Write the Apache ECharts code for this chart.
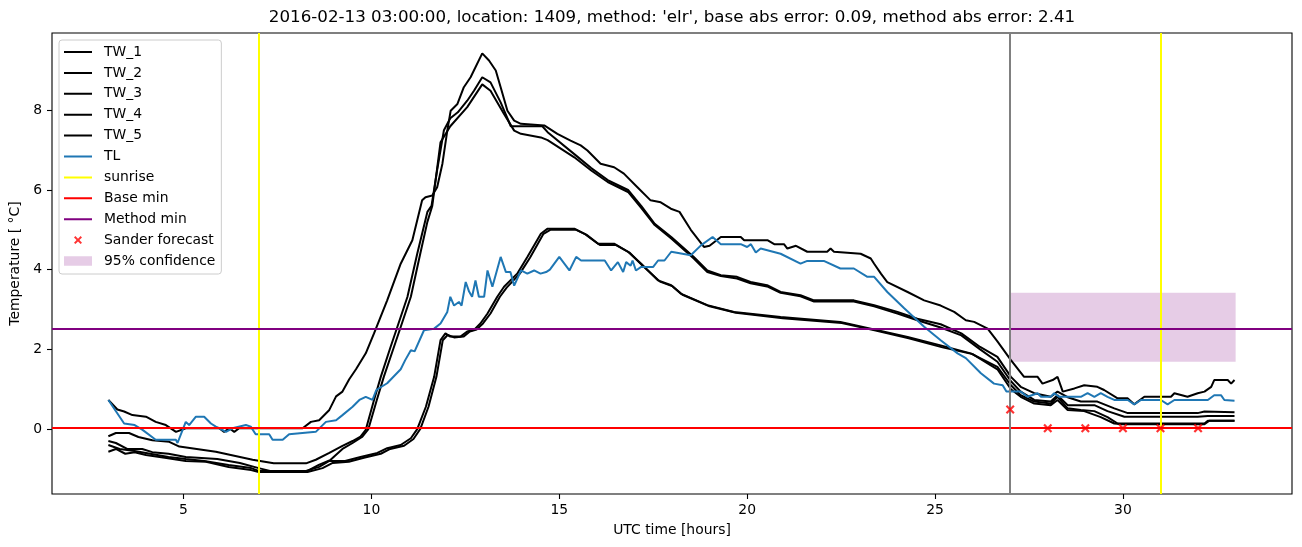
<!DOCTYPE html>
<html><head><meta charset="utf-8">
<script src="https://cdn.jsdelivr.net/npm/echarts@6/dist/echarts.min.js"></script>
<style>html,body{margin:0;padding:0;background:#fff}#c{width:1302px;height:547px}</style>
</head><body><div id="c"></div>
<script>
// ---- data (hours, °C) ----
const tw1 = [[3.0,0.73],[3.24,0.49],[3.42,0.44],[3.64,0.35],[4.0,0.31],[4.26,0.18],[4.53,0.10],[4.8,-0.07],[5.06,0.02],[5.95,0.02],[6.08,-0.07],[6.22,0.02],[6.35,-0.07],[6.48,0.02],[8.17,0.02],[8.39,0.18],[8.61,0.22],[8.88,0.48],[9.06,0.82],[9.23,0.94],[9.41,1.25],[9.59,1.5],[9.85,1.9],[10.07,2.4],[10.42,3.23],[10.78,4.15],[11.09,4.74],[11.35,5.74],[11.44,5.82],[11.62,5.86],[11.75,6.07],[11.89,6.66],[12.02,7.49],[12.11,7.99],[12.29,8.16],[12.46,8.58],[12.64,8.83],[12.95,9.43],[13.13,9.25],[13.31,9.0],[13.44,8.58],[13.62,7.99],[13.8,7.74],[13.98,7.66],[14.6,7.62],[14.95,7.41],[15.3,7.24],[15.57,7.12],[15.75,6.99],[16.1,6.66],[16.46,6.57],[16.72,6.41],[17.08,6.07],[17.43,5.74],[17.7,5.69],[17.97,5.53],[18.2,5.45],[18.5,5.0],[18.85,4.57],[19.0,4.6],[19.3,4.82],[19.83,4.82],[19.92,4.74],[20.54,4.74],[20.72,4.64],[20.98,4.64],[21.07,4.53],[21.3,4.6],[21.6,4.45],[22.13,4.45],[22.22,4.53],[22.31,4.45],[23.02,4.4],[23.29,4.28],[23.38,4.15],[23.56,3.9],[23.73,3.69],[24.27,3.44],[24.71,3.23],[25.15,3.1],[25.51,2.94],[25.82,2.73],[26.04,2.69],[26.4,2.52],[26.66,2.2],[27.02,1.73],[27.37,1.31],[27.73,1.31],[27.86,1.14],[28.13,1.23],[28.26,1.31],[28.4,0.94],[28.71,1.02],[28.97,1.1],[29.32,1.06],[29.5,0.98],[29.86,0.77],[30.13,0.77],[30.3,0.62],[30.57,0.81],[31.28,0.81],[31.37,0.9],[31.72,0.81],[31.99,0.9],[32.17,0.94],[32.35,1.06],[32.43,1.23],[32.79,1.23],[32.88,1.14],[32.97,1.23]];
const tw2 = [[3.0,-0.18],[3.2,-0.1],[3.55,-0.1],[3.8,-0.2],[4.17,-0.28],[4.62,-0.32],[4.89,-0.44],[5.86,-0.57],[6.84,-0.77],[7.4,-0.86],[8.26,-0.86],[8.52,-0.77],[8.88,-0.6],[9.23,-0.42],[9.5,-0.3],[9.71,-0.19],[9.85,-0.02],[10.07,0.73],[10.25,1.31],[10.51,2.06],[10.69,2.56],[10.96,3.32],[11.22,4.4],[11.49,5.45],[11.6,5.6],[11.75,6.5],[11.93,7.5],[12.1,7.8],[12.3,7.95],[12.55,8.24],[12.73,8.49],[12.95,8.83],[13.17,8.7],[13.44,8.2],[13.71,7.6],[13.98,7.6],[14.55,7.6],[14.69,7.45],[15.4,6.9],[15.85,6.55],[16.29,6.25],[16.83,6.0],[17.18,5.6],[17.54,5.15],[17.98,4.82],[18.58,4.32],[18.94,3.98],[19.3,3.86],[19.73,3.82],[20.09,3.69],[20.53,3.61],[20.89,3.44],[21.42,3.36],[21.78,3.23],[22.84,3.23],[23.38,3.11],[24.0,2.94],[24.53,2.77],[25.15,2.63],[25.7,2.4],[26.2,2.06],[26.66,1.81],[27.02,1.31],[27.28,1.06],[27.64,0.9],[28.08,0.81],[28.26,0.94],[28.53,0.8],[28.88,0.69],[29.32,0.69],[29.77,0.52],[30.13,0.40],[31.99,0.40],[32.17,0.44],[32.97,0.42]];
const tw3 = [[3.0,-0.3],[3.2,-0.35],[3.5,-0.5],[3.9,-0.5],[4.17,-0.58],[4.6,-0.62],[5.06,-0.7],[5.9,-0.75],[6.5,-0.85],[7.0,-0.98],[7.3,-1.05],[8.3,-1.05],[8.6,-0.9],[8.9,-0.78],[9.23,-0.5],[9.5,-0.35],[9.75,-0.2],[9.92,0.0],[10.15,0.75],[10.33,1.31],[10.6,2.06],[10.78,2.56],[11.05,3.32],[11.3,4.4],[11.49,5.2],[11.62,5.6],[11.84,7.2],[12.1,7.6],[12.55,8.08],[12.95,8.65],[13.17,8.49],[13.53,7.91],[13.8,7.49],[13.98,7.41],[14.51,7.32],[14.69,7.25],[15.4,6.82],[15.85,6.49],[16.29,6.2],[16.83,5.95],[17.18,5.55],[17.54,5.12],[17.98,4.78],[18.58,4.28],[18.94,3.94],[19.3,3.84],[19.73,3.78],[20.09,3.66],[20.53,3.58],[20.89,3.42],[21.42,3.33],[21.78,3.2],[22.84,3.2],[23.38,3.08],[24.0,2.9],[24.53,2.73],[25.15,2.55],[25.7,2.35],[26.2,2.0],[26.66,1.69],[27.02,1.2],[27.28,0.94],[27.64,0.73],[28.08,0.69],[28.26,0.85],[28.53,0.6],[28.88,0.6],[29.24,0.6],[29.59,0.45],[30.04,0.31],[31.99,0.31],[32.26,0.33],[32.97,0.33]];
const tw4 = [[3.0,-0.4],[3.3,-0.5],[3.7,-0.55],[4.0,-0.6],[4.6,-0.7],[5.06,-0.75],[5.55,-0.8],[6.2,-0.9],[6.8,-0.98],[7.0,-1.05],[8.26,-1.05],[8.61,-0.95],[8.88,-0.8],[9.3,-0.8],[9.71,-0.7],[10.16,-0.6],[10.42,-0.48],[10.78,-0.4],[11.05,-0.23],[11.22,0.0],[11.45,0.56],[11.67,1.31],[11.84,2.23],[11.97,2.4],[12.1,2.32],[12.37,2.32],[12.55,2.45],[12.73,2.49],[12.9,2.65],[13.09,2.9],[13.35,3.32],[13.53,3.57],[13.88,3.9],[14.15,4.32],[14.51,4.9],[14.69,5.03],[15.4,5.03],[15.67,4.9],[16.03,4.65],[16.47,4.65],[16.83,4.45],[17.18,4.15],[17.63,3.73],[17.98,3.61],[18.23,3.4],[18.94,3.11],[19.65,2.94],[20.89,2.81],[22.48,2.69],[23.38,2.5],[24.27,2.31],[25.15,2.1],[25.95,1.9],[26.66,1.56],[27.02,1.1],[27.28,0.85],[27.64,0.69],[28.08,0.64],[28.26,0.81],[28.53,0.52],[28.88,0.48],[29.24,0.45],[29.59,0.3],[29.86,0.14],[32.17,0.14],[32.26,0.21],[32.97,0.21]];
const tw5 = [[3.0,-0.57],[3.2,-0.5],[3.45,-0.62],[3.7,-0.58],[4.0,-0.65],[4.5,-0.72],[5.06,-0.8],[5.6,-0.82],[6.2,-0.95],[6.8,-1.03],[7.0,-1.08],[8.3,-1.08],[8.7,-0.98],[8.97,-0.85],[9.4,-0.82],[9.8,-0.72],[10.25,-0.62],[10.5,-0.5],[10.87,-0.42],[11.12,-0.25],[11.3,0.0],[11.52,0.56],[11.73,1.31],[11.9,2.23],[12.03,2.36],[12.2,2.3],[12.45,2.32],[12.62,2.45],[12.8,2.5],[12.97,2.65],[13.17,2.9],[13.42,3.32],[13.6,3.55],[13.95,3.9],[14.22,4.3],[14.58,4.9],[14.76,5.0],[15.45,5.0],[15.72,4.88],[16.08,4.62],[16.5,4.62],[16.88,4.42],[17.22,4.1],[17.68,3.7],[18.02,3.58],[18.28,3.37],[19.0,3.08],[19.7,2.92],[20.95,2.78],[22.52,2.66],[23.42,2.47],[24.3,2.28],[25.2,2.05],[26.0,1.88],[26.66,1.5],[27.02,1.0],[27.28,0.81],[27.64,0.64],[28.08,0.6],[28.26,0.73],[28.53,0.48],[28.97,0.45],[29.41,0.3],[29.77,0.14],[30.0,0.12],[32.17,0.12],[32.3,0.21],[32.97,0.21]];
const tl = [[3.0,0.73],[3.42,0.14],[3.7,0.10],[3.91,-0.02],[4.26,-0.27],[4.8,-0.27],[4.84,-0.35],[5.06,0.18],[5.15,0.10],[5.33,0.31],[5.55,0.31],[5.73,0.14],[5.86,0.06],[5.95,0.02],[6.13,-0.07],[6.3,0.02],[6.66,0.10],[6.79,0.06],[6.92,-0.13],[7.28,-0.13],[7.37,-0.27],[7.64,-0.27],[7.81,-0.13],[8.52,-0.07],[8.79,0.18],[9.06,0.22],[9.23,0.35],[9.5,0.56],[9.68,0.73],[9.85,0.81],[10.03,0.73],[10.13,0.98],[10.42,1.15],[10.78,1.5],[10.9,1.73],[11.05,1.98],[11.15,1.95],[11.4,2.48],[11.67,2.52],[11.84,2.65],[12.02,2.94],[12.1,3.32],[12.2,3.1],[12.33,3.19],[12.4,3.1],[12.51,3.69],[12.6,3.45],[12.68,3.32],[12.77,3.73],[12.86,3.32],[13.0,3.32],[13.09,3.98],[13.22,3.57],[13.44,4.32],[13.58,3.94],[13.7,3.94],[13.8,3.6],[13.98,3.98],[14.15,3.9],[14.33,3.98],[14.5,3.9],[14.65,3.94],[14.75,4.0],[15.0,4.32],[15.27,3.98],[15.45,4.32],[15.58,4.23],[16.21,4.23],[16.38,3.98],[16.56,4.19],[16.7,3.94],[16.78,4.19],[16.9,4.1],[16.95,4.23],[17.04,3.98],[17.18,4.07],[17.5,4.07],[17.63,4.23],[17.8,4.23],[17.98,4.45],[18.5,4.36],[18.77,4.61],[19.08,4.82],[19.3,4.64],[19.83,4.64],[20.0,4.57],[20.1,4.64],[20.23,4.43],[20.36,4.53],[20.89,4.4],[21.42,4.15],[21.6,4.22],[22.04,4.22],[22.48,4.03],[22.84,4.03],[23.2,3.82],[23.38,3.82],[23.73,3.44],[24.18,3.03],[24.71,2.57],[25.15,2.23],[25.6,1.9],[25.82,1.78],[26.22,1.4],[26.57,1.14],[26.8,1.1],[26.9,0.94],[27.28,0.94],[27.46,0.81],[27.73,0.9],[27.82,0.81],[28.08,0.81],[28.17,0.9],[28.3,0.81],[28.88,0.81],[29.06,0.9],[29.24,0.81],[29.41,0.9],[29.59,0.81],[29.77,0.73],[30.13,0.73],[30.3,0.62],[30.48,0.73],[31.01,0.73],[31.19,0.62],[31.37,0.73],[32.26,0.73],[32.43,0.85],[32.61,0.85],[32.7,0.73],[32.97,0.71]];
const sunriseTimes = [7, 31];
const baseMin = 0.03;
const methodMin = 2.52;
const forecastTime = 27;
const sanderForecast = [[27,0.49],[28,0.02],[29,0.02],[30,0.02],[31,0.02],[32,0.02]];
const confidenceRange = [1.69, 3.42];
const confidenceHours = [27, 33];
const xTicks = [5, 10, 15, 20, 25, 30];
const yTicks = [0, 2, 4, 6, 8];
const titleText = "2016-02-13 03:00:00, location: 1409, method: 'elr', base abs error: 0.09, method abs error: 2.41";

// ---- chart ----
const FONT = 'DejaVu Sans';
const LW = 2;
const xPath = 'path://M0,1.4L1.4,0L4,2.6L6.6,0L8,1.4L5.4,4L8,6.6L6.6,8L4,5.4L1.4,8L0,6.6L2.6,4Z';
const pad = 'M0,0L0.01,0L0,0.01Z M28,14L27.99,14L28,13.99Z ';
const xIcon = 'path://' + pad + 'M10,4.4L11.4,3L14,5.6L16.6,3L18,4.4L15.4,7L18,9.6L16.6,11L14,8.4L11.4,11L10,9.6L12.6,7Z';
const rectIcon = 'path://' + pad + 'M0,2.2H28V11.8H0Z';
const lineIcon = 'path://' + pad + 'M0,6H28V8H0Z';

function lineSeries(name, data, color) {
  return {name, type: 'line', data, symbol: 'none', showSymbol: false,
    color, lineStyle: {color, width: LW}, itemStyle: {color},
    silent: true, animation: false, z: 2};
}
function refLine(name, color, lines) {
  return {name, type: 'line', data: [], symbol: 'none', color,
    lineStyle: {color, width: LW}, itemStyle: {color}, silent: true, animation: false,
    markLine: {silent: true, symbol: ['none', 'none'], animation: false, label: {show: false},
      lineStyle: {color, width: LW, type: 'solid'}, emphasis: {disabled: true}, data: lines}, z: 3};
}

const series = [
  lineSeries('TW_1', tw1, '#000000'),
  lineSeries('TW_2', tw2, '#000000'),
  lineSeries('TW_3', tw3, '#000000'),
  lineSeries('TW_4', tw4, '#000000'),
  lineSeries('TW_5', tw5, '#000000'),
  lineSeries('TL', tl, '#1f77b4'),
  refLine('sunrise', '#ffff00', sunriseTimes.map(t => ({xAxis: t}))),
  refLine('Base min', '#ff0000', [{yAxis: baseMin}]),
  refLine('Method min', '#800080', [{yAxis: methodMin}]),
  refLine('forecast time', '#808080', [{xAxis: forecastTime}]),
  {name: 'Sander forecast', type: 'scatter', data: sanderForecast, symbol: xPath, symbolSize: 9,
    itemStyle: {color: '#ff0000'}, color: '#ff0000', silent: true, animation: false, z: 5},
  {name: '95% confidence', type: 'line', data: [], symbol: 'none', color: 'rgba(128,0,128,0.2)',
    itemStyle: {color: 'rgba(128,0,128,0.2)'}, lineStyle: {width: 0}, silent: true, animation: false,
    markArea: {silent: true, animation: false, itemStyle: {color: 'rgba(128,0,128,0.2)'},
      data: [[{xAxis: confidenceHours[0], yAxis: confidenceRange[0]}, {xAxis: confidenceHours[1], yAxis: confidenceRange[1]}]]}, z: 4}
];

const lineNames = ['TW_1', 'TW_2', 'TW_3', 'TW_4', 'TW_5', 'TL', 'sunrise', 'Base min', 'Method min'];
const chart = echarts.init(document.getElementById('c'), null, {renderer: 'canvas'});
chart.setOption({
  animation: false,
  backgroundColor: '#ffffff',
  textStyle: {fontFamily: FONT},
  title: {text: titleText, left: 672, top: 9, textAlign: 'center', padding: 0,
    textStyle: {fontFamily: FONT, fontSize: 16.7, fontWeight: 'normal', color: '#000'}},
  grid: {left: 52, right: 10, top: 33, bottom: 53, containLabel: false, outerBoundsMode: 'none',
    show: true, borderColor: '#000', borderWidth: 1.1, backgroundColor: 'transparent'},
  legend: {
    orient: 'vertical', left: 59, top: 40,
    padding: [5, 6, 6, 5],
    itemWidth: 28, itemHeight: 14, itemGap: 6.9,
    backgroundColor: 'rgba(255,255,255,0.8)', borderColor: '#cccccc', borderWidth: 1, borderRadius: 3,
    textStyle: {fontFamily: FONT, fontSize: 13.9, color: '#000', lineHeight: 14, padding: [0, 0, 0, 7]},
    selectedMode: false,
    data: lineNames.map(n => ({name: n, icon: lineIcon})).concat([
      {name: 'Sander forecast', icon: xIcon},
      {name: '95% confidence', icon: rectIcon}])
  },
  xAxis: {
    type: 'value', min: 1.5, max: 34.5,
    name: 'UTC time [hours]', nameLocation: 'middle', nameGap: 29,
    nameTextStyle: {fontFamily: FONT, fontSize: 13.9, color: '#000'},
    axisLine: {show: false, onZero: false},
    axisTick: {show: true, inside: false, length: 5, customValues: xTicks, lineStyle: {color: '#000', width: 1.1}},
    axisLabel: {show: true, customValues: xTicks, margin: 9, fontFamily: FONT, fontSize: 13.9, color: '#000'},
    splitLine: {show: false}
  },
  yAxis: {
    type: 'value', min: -1.63, max: 9.94,
    name: 'Temperature [ °C]', nameLocation: 'middle', nameGap: 26, nameRotate: 90,
    nameTextStyle: {fontFamily: FONT, fontSize: 13.9, color: '#000'},
    axisLine: {show: false, onZero: false},
    axisTick: {show: true, inside: false, length: 5, customValues: yTicks, lineStyle: {color: '#000', width: 1.1}},
    axisLabel: {show: true, customValues: yTicks, margin: 10, fontFamily: FONT, fontSize: 13.9, color: '#000'},
    splitLine: {show: false}
  },
  series
});
</script>
</body></html>
